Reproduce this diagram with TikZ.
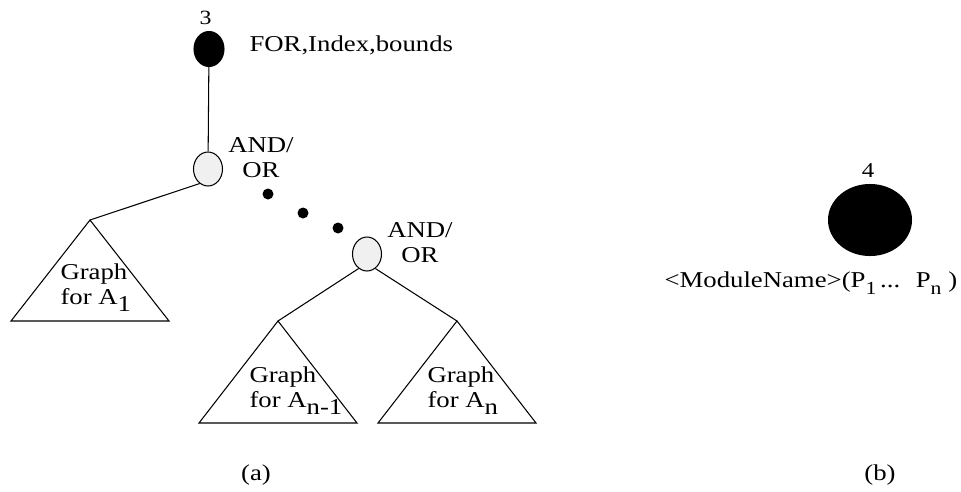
\documentclass[tikz,border=0pt]{standalone}
\usepackage{fontspec}
\setmainfont{Liberation Serif}[FakeStretch=1.18]
\usetikzlibrary{shapes.geometric}
\newcommand{\lowtext}[1]{\raisebox{-4.5pt}{#1}}
\newcommand{\smalllow}[1]{\raisebox{-4.5pt}{\fontsize{10.5}{12}\selectfont #1}}
\begin{document}
\begin{tikzpicture}[x=0.02cm,y=-0.02cm,line width=0.6pt,
  every node/.style={font=\fontsize{12.9}{14.2}\selectfont,inner sep=0pt},
  blacknode/.style={ellipse,draw,fill=black},
  andor/.style={ellipse,draw,fill=gray!12,minimum width=0.58cm,minimum height=0.68cm},
  dot/.style={circle,fill=black,minimum size=0.22cm}]
\useasboundingbox (0,0) rectangle (961,491);
% (a) loop node with its two AND/OR nodes
\node[blacknode,minimum width=0.6cm,minimum height=0.7cm] (for) at (209,49) {};
\node[anchor=base] (forno) at (205.5,24) {\fontsize{11.5}{12}\selectfont 3};
\node[anchor=base west] (forlab) at (249,51) {FOR,Index,bounds};
\node[andor] (ao1) at (208,169) {};
\node[align=center,anchor=base] (ao1lab) at (261,177) {AND/\\OR};
\node[andor] (ao2) at (367,254) {};
\node[align=center,anchor=base] (ao2lab) at (420,262) {AND/\\OR};
\node[dot] (d1) at (268,194) {};
\node[dot] (d2) at (303,213) {};
\node[dot] (d3) at (338,228) {};
% subgraph triangles
\coordinate (g1) at (90,220);
\coordinate (g2) at (278,321);
\coordinate (g3) at (457,321);
\draw (g1) -- ++(-79,101) -- ++(158,0) -- cycle;
\draw (g2) -- ++(-79,102) -- ++(158,0) -- cycle;
\draw (g3) -- ++(-79,102) -- ++(158,0) -- cycle;
\node[align=left,anchor=base west] (g1lab) at (60,304) {Graph\\for A\lowtext{1}};
\node[align=left,anchor=base west] (g2lab) at (249,407) {Graph\\for A\lowtext{n-1}};
\node[align=left,anchor=base west] (g3lab) at (427,407) {Graph\\for A\lowtext{n}};
\draw (for) -- (ao1);
\draw (ao1.240) -- (g1);
\draw (ao2.240) -- (g2);
\draw (ao2.300) -- (g3);
% (b) module call node
\node[blacknode,minimum width=1.66cm,minimum height=1.42cm] (mod) at (870,220) {};
\node[anchor=base] (modno) at (868,177) {\fontsize{12}{12}\selectfont 4};
\node[anchor=base west] (modlab) at (664,287) {<ModuleName>(P\smalllow{1}\,... \ P\smalllow{n}\ )};
% captions
\node[anchor=base] (capa) at (256,480) {(a)};
\node[anchor=base] (capb) at (880,480) {(b)};
\end{tikzpicture}
\end{document}
